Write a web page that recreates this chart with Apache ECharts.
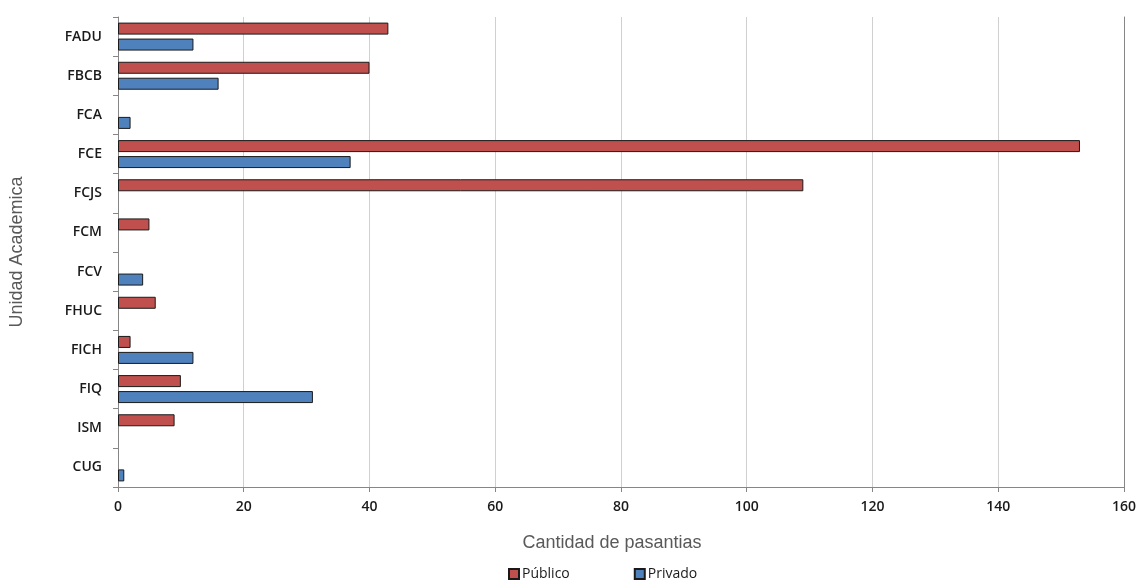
<!DOCTYPE html>
<html>
<head>
<meta charset="utf-8">
<script src="https://cdn.jsdelivr.net/npm/echarts@6/dist/echarts.min.js"></script>
<style>html,body{margin:0;padding:0;background:#fff}#c{width:1139px;height:580px}</style>
</head>
<body>
<div id="c"></div>
<script>
var categories = ["FADU","FBCB","FCA","FCE","FCJS","FCM","FCV","FHUC","FICH","FIQ","ISM","CUG"];
var publico = [43, 40, 0, 153, 109, 5, 0, 6, 2, 10, 9, 0];
var privado = [12, 16, 2, 37, 0, 0, 4, 0, 12, 31, 0, 1];
var xTicks = [0, 20, 40, 60, 80, 100, 120, 140, 160];

function noZero(arr){ return arr.map(function(v){ return v === 0 ? '-' : v; }); }

var chart = echarts.init(document.getElementById('c'));
var lblFont = {color:'#1a1a1a', fontSize:14, fontFamily:'Open Sans', fontWeight:600};
chart.setOption({
  animation:false,
  grid:{left:118, right:11, top:17, bottom:93},
  legend:{
    left:503, top:562, itemWidth:10, itemHeight:10, itemGap:64,
    icon:'rect',
    textStyle:{color:'#1a1a1a', fontSize:14, fontFamily:'Open Sans', padding:[0,0,0,-2]},
    data:['Público','Privado']
  },
  xAxis:{
    type:'value', min:xTicks[0], max:xTicks[xTicks.length-1], interval:20,
    name:'Cantidad de pasantias', nameLocation:'middle', nameGap:47,
    nameTextStyle:{color:'#595959', fontSize:18, fontFamily:'Liberation Sans', padding:[0,18,0,0]},
    axisLine:{show:true, lineStyle:{color:'#868686'}},
    axisTick:{show:true, length:5, lineStyle:{color:'#868686'}},
    axisLabel:Object.assign({margin:13}, lblFont),
    splitLine:{show:true, lineStyle:{color:'#d0d0d0', width:1}}
  },
  yAxis:[{
    type:'category', data:categories, inverse:true,
    name:'Unidad Academica', nameLocation:'middle', nameGap:92, nameRotate:90,
    nameTextStyle:{color:'#595959', fontSize:18, fontFamily:'Liberation Sans'},
    axisLine:{show:true, lineStyle:{color:'#868686'}},
    axisTick:{show:true, length:5, lineStyle:{color:'#868686'}},
    axisLabel:Object.assign({margin:16}, lblFont),
    splitLine:{show:false}
  },{
    type:'category', data:categories, inverse:true, position:'right',
    axisLine:{show:true, lineStyle:{color:'#868686'}},
    axisTick:{show:false}, axisLabel:{show:false}, splitLine:{show:false}
  }],
  series:[{
    name:'Público', type:'bar', data:noZero(publico), barWidth:12, barGap:'33%',
    itemStyle:{color:'#C0504D', borderColor:'#1a1a1a', borderWidth:1}
  },{
    name:'Privado', type:'bar', data:noZero(privado), barWidth:12, barGap:'33%',
    itemStyle:{color:'#4F81BD', borderColor:'#1a1a1a', borderWidth:1}
  }]
});
</script>
</body>
</html>
